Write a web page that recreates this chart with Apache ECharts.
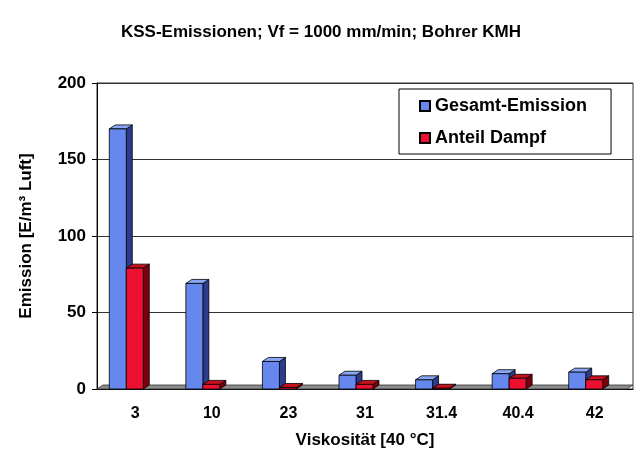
<!DOCTYPE html>
<html>
<head>
<meta charset="utf-8">
<script src="https://cdn.jsdelivr.net/npm/echarts@6/dist/echarts.min.js"></script>
<style>
  html, body { margin: 0; padding: 0; background: #fff; }
  #chart { width: 642px; height: 454px; }
</style>
</head>
<body>
<div id="chart"></div>
<script>
// Viskosität [40 °C] categories
const viskositaet = ['3', '10', '23', '31', '31.4', '40.4', '42']
// Emission [E/m³ Luft]
const gesamtEmission = [170, 69, 18, 9, 6, 10, 11]
const anteilDampf = [79, 3, 1, 3, 0.5, 7, 6]
const yTicks = { min: 0, max: 200, interval: 50 }

const FONT = 'Liberation Sans, Arial, sans-serif'
const DX = 6 // 3d depth
const DY = 4
const BAR_W = 17

// draws one 3d-looking bar (front, side, top) from the axis coordinates
function bar3d(offset, front, side, top) {
  return function (params, api) {
    const base = api.coord([api.value(0), 0])
    const head = api.coord([api.value(0), api.value(1)])
    const x0 = base[0] + offset
    const x1 = x0 + BAR_W
    const yb = base[1]
    const yt = head[1]
    const st = { stroke: '#000', lineWidth: 0.8 }
    return {
      type: 'group',
      children: [
        {
          type: 'polygon',
          shape: { points: [[x1, yb], [x1 + DX, yb - DY], [x1 + DX, yt - DY], [x1, yt]] },
          style: Object.assign({ fill: side }, st),
        },
        {
          type: 'polygon',
          shape: { points: [[x0, yt], [x0 + DX, yt - DY], [x1 + DX, yt - DY], [x1, yt]] },
          style: Object.assign({ fill: top }, st),
        },
        {
          type: 'rect',
          shape: { x: x0, y: yt, width: BAR_W, height: yb - yt },
          style: Object.assign({ fill: front }, st),
        },
      ],
    }
  }
}

// grey floor strip under the bars
function floor(params, api) {
  const cs = params.coordSys
  const yb = cs.y + cs.height
  return {
    type: 'polygon',
    silent: true,
    shape: {
      points: [[cs.x, yb], [cs.x + DX, yb - DY], [cs.x + cs.width, yb - DY], [cs.x + cs.width - DX, yb]],
    },
    style: { fill: '#8c8c8c', stroke: '#333', lineWidth: 0.8 },
  }
}

const chart = echarts.init(document.getElementById('chart'))

const option = {
  backgroundColor: '#fff',
  animation: false,
  textStyle: { fontFamily: FONT },
  title: {
    text: 'KSS-Emissionen; Vf = 1000 mm/min; Bohrer KMH',
    left: 'center',
    top: 19,
    textStyle: { fontFamily: FONT, fontSize: 17, fontWeight: 'bold', color: '#000' },
  },
  legend: {
    orient: 'vertical',
    left: 399,
    top: 89,
    data: ['Gesamt-Emission', 'Anteil Dampf'],
    icon: 'rect',
    itemWidth: 10,
    itemHeight: 10,
    itemGap: 14,
    padding: [8, 24, 7, 20],
    borderColor: '#000',
    borderWidth: 1,
    backgroundColor: '#fff',
    textStyle: { fontFamily: FONT, fontSize: 18, fontWeight: 'bold', color: '#000' },
  },
  grid: {
    left: 97,
    right: 9,
    top: 83,
    bottom: 65,
    show: true,
    borderColor: '#333',
    borderWidth: 1,
  },
  xAxis: {
    type: 'category',
    data: viskositaet,
    name: 'Viskosität [40 °C]',
    nameLocation: 'middle',
    nameGap: 43,
    nameTextStyle: { fontFamily: FONT, fontSize: 17, fontWeight: 'bold', color: '#000' },
    axisLine: { lineStyle: { color: '#000' } },
    axisTick: { length: 5, lineStyle: { color: '#000' } },
    axisLabel: { fontFamily: FONT, fontSize: 16, fontWeight: 'bold', color: '#000', margin: 17 },
  },
  yAxis: {
    type: 'value',
    min: yTicks.min,
    max: yTicks.max,
    interval: yTicks.interval,
    name: 'Emission [E/m³ Luft]',
    nameLocation: 'middle',
    nameRotate: 90,
    nameGap: 62,
    nameTextStyle: { fontFamily: FONT, fontSize: 17, fontWeight: 'bold', color: '#000' },
    axisLine: { show: true, lineStyle: { color: '#000' } },
    axisTick: { show: true, length: 5, lineStyle: { color: '#000' } },
    axisLabel: { fontFamily: FONT, fontSize: 17, fontWeight: 'bold', color: '#000', margin: 11 },
    splitLine: { lineStyle: { color: '#333', width: 1 } },
  },
  series: [
    {
      type: 'custom',
      name: 'floor',
      silent: true,
      z: 1,
      renderItem: floor,
      data: [[0, 0]],
    },
    {
      type: 'custom',
      name: 'Gesamt-Emission',
      z: 2,
      itemStyle: { color: '#6688ee', borderColor: '#000', borderWidth: 1 },
      renderItem: bar3d(-26, '#6688ee', '#2b3c8c', '#8aa6f6'),
      data: gesamtEmission.map((v, i) => [i, v]),
    },
    {
      type: 'custom',
      name: 'Anteil Dampf',
      z: 3,
      itemStyle: { color: '#ee1030', borderColor: '#000', borderWidth: 1 },
      renderItem: bar3d(-9, '#ee1030', '#7a0010', '#c8101e'),
      data: anteilDampf.map((v, i) => [i, v]),
    },
  ],
}

chart.setOption(option)
</script>
</body>
</html>
